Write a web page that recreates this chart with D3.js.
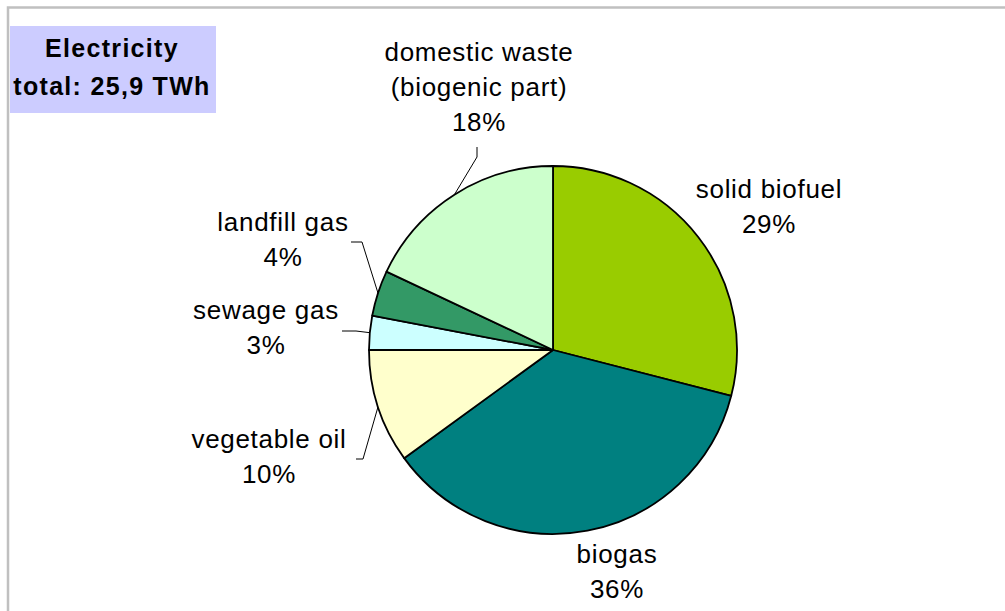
<!DOCTYPE html>
<html>
<head>
<meta charset="utf-8">
<script src="https://cdn.jsdelivr.net/npm/d3@7"></script>
<style>
  html, body { margin: 0; padding: 0; background: #fff; }
  svg { display: block; }
  text { font-family: "Liberation Sans", Arial, sans-serif; }
</style>
</head>
<body>
<svg id="chart" width="1005" height="611"></svg>
<script>
// ---- data ----
const categories = ["solid biofuel", "biogas", "vegetable oil", "sewage gas", "landfill gas", "domestic waste (biogenic part)"];
const labelLines = [["solid biofuel"], ["biogas"], ["vegetable oil"], ["sewage gas"], ["landfill gas"], ["domestic waste", "(biogenic part)"]];
const shares = [29, 36, 10, 3, 4, 18];
const colors = ["#99cc00", "#008080", "#ffffcc", "#ccffff", "#339966", "#ccffcc"];
const titleLines = ["Electricity", "total: 25,9 TWh"];

// ---- layout (label anchor positions, not data) ----
const labelPos = [
  {x: 769, y: 198, leader: null},
  {x: 617, y: 563, leader: null},
  {x: 269, y: 448, leader: [[356, 459], [363, 459]]},
  {x: 266, y: 319, leader: [[342, 331], [356, 331]]},
  {x: 283, y: 231, leader: [[351, 242], [362, 242]]},
  {x: 479, y: 61, leader: [[477, 147], [477, 157]]}
];

const svg = d3.select("#chart");
const cx = 553, cy = 350, r = 184;

// frame
svg.append("rect").attr("x", 8).attr("y", 7.5).attr("width", 1100).attr("height", 700)
  .attr("fill", "none").attr("stroke", "#c0c0c0").attr("stroke-width", 2.5);

// title box
svg.append("rect").attr("x", 10).attr("y", 26).attr("width", 206).attr("height", 87).attr("fill", "#ccccff");
svg.append("g").selectAll("text").data(titleLines).join("text")
  .attr("x", 112).attr("y", (d, i) => 57 + i * 38)
  .attr("text-anchor", "middle").attr("font-size", 25).attr("font-weight", "bold")
  .attr("letter-spacing", 1.3).attr("fill", "#000").text(d => d);

const pie = d3.pie().sort(null).value(d => d)(shares);
const arc = d3.arc().innerRadius(0).outerRadius(r);

const g = svg.append("g").attr("transform", `translate(${cx},${cy})`);
g.selectAll("path").data(pie).join("path")
  .attr("d", arc).attr("fill", (d, i) => colors[i])
  .attr("stroke", "#000").attr("stroke-width", 1.8).attr("stroke-linejoin", "round");

// leaders
pie.forEach((d, i) => {
  const lp = labelPos[i];
  if (!lp.leader) return;
  const mid = (d.startAngle + d.endAngle) / 2;
  const end = [cx + r * Math.sin(mid), cy - r * Math.cos(mid)];
  const pts = lp.leader.concat([end]);
  svg.append("path").attr("d", d3.line()(pts)).attr("fill", "none")
    .attr("stroke", "#000").attr("stroke-width", 1);
});

// labels
pie.forEach((d, i) => {
  const lp = labelPos[i];
  const lines = labelLines[i].concat([shares[i] + "%"]);
  svg.append("g").selectAll("text").data(lines).join("text")
    .attr("x", lp.x).attr("y", (t, k) => lp.y + k * 35)
    .attr("text-anchor", "middle").attr("font-size", 26)
    .attr("letter-spacing", 0.7).attr("fill", "#000").text(t => t);
});
</script>
</body>
</html>
